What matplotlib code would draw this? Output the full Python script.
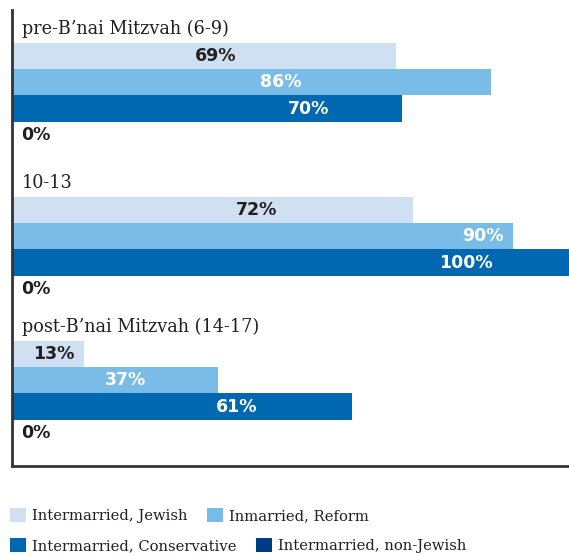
import matplotlib
matplotlib.use("Agg")
import matplotlib.pyplot as plt
from matplotlib.patches import Patch

# ---- data ----
groups = ["pre-B\u2019nai Mitzvah (6-9)", "10-13", "post-B\u2019nai Mitzvah (14-17)"]
series = ["Intermarried, Jewish", "Inmarried, Reform",
          "Intermarried, Conservative", "Intermarried, non-Jewish"]
interm_jewish = [69, 72, 13]
inmarried_reform = [86, 90, 37]
interm_conservative = [70, 100, 61]
interm_nonjewish = [0, 0, 0]

# ---- style / layout ----
colors = ["#cfe0f2", "#7abce8", "#0068b1", "#003c82"]
label_colors = ["#231f20", "white", "white", "#231f20"]
# where each value label sits, as a fraction of its bar length
label_frac = [[0.53, 0.56, 0.76], [0.61, 0.94, 0.815], [0.58, 0.55, 0.66]]
W, H = 569, 556
group_base = [56, 210, 354]   # vertical layout (pixel-like units)
step = 26.3

fig = plt.figure(figsize=(W / 100, H / 100), dpi=100)
ax = fig.add_axes([12 / W, (H - 466) / H, (W - 12) / W, 456 / H])
ax.set_xlim(0, 100)
ax.set_ylim(466, 10)

values = [interm_jewish, inmarried_reform, interm_conservative, interm_nonjewish]
sans = ["DejaVu Sans"]
serif = ["DejaVu Serif"]

for g, gname in enumerate(groups):
    for s in range(4):
        y = group_base[g] + s * step
        v = values[s][g]
        ax.barh(y, v, height=step, color=colors[s], linewidth=0)
        if v > 0:
            ax.text(v * label_frac[g][s], y, f"{v}%", ha="center", va="center",
                    fontsize=12.5, fontweight="bold", color=label_colors[s],
                    family=sans)
        else:
            ax.text(1.6, y, f"{v}%", ha="left", va="center", fontsize=12.5,
                    fontweight="bold", color=label_colors[s], family=sans)
    ax.text(1.8, group_base[g] - step / 2 - 9, gname, ha="left", va="baseline",
            fontsize=12.7, color="#231f20", family=serif)

for sp in ["top", "right"]:
    ax.spines[sp].set_visible(False)
for sp in ["left", "bottom"]:
    ax.spines[sp].set_linewidth(2)
    ax.spines[sp].set_color("#333333")
ax.set_xticks([])
ax.set_yticks([])

handles = [Patch(facecolor=c, edgecolor="none") for c in colors]
rows = [(0, 1), (2, 3)]
row_y = [515.5, 545.5]
for r, (a, b) in enumerate(rows):
    leg = fig.legend([handles[a], handles[b]], [series[a], series[b]],
                     loc="center left", bbox_to_anchor=(10 / W, 1 - row_y[r] / H),
                     ncol=2, frameon=False, handlelength=1.08,
                     handleheight=1.08, handletextpad=0.4, columnspacing=1.35,
                     borderpad=0, borderaxespad=0, prop={"family": serif, "size": 10.65})
    for t in leg.get_texts():
        t.set_color("#231f20")

fig.savefig("out.png", dpi=100)
